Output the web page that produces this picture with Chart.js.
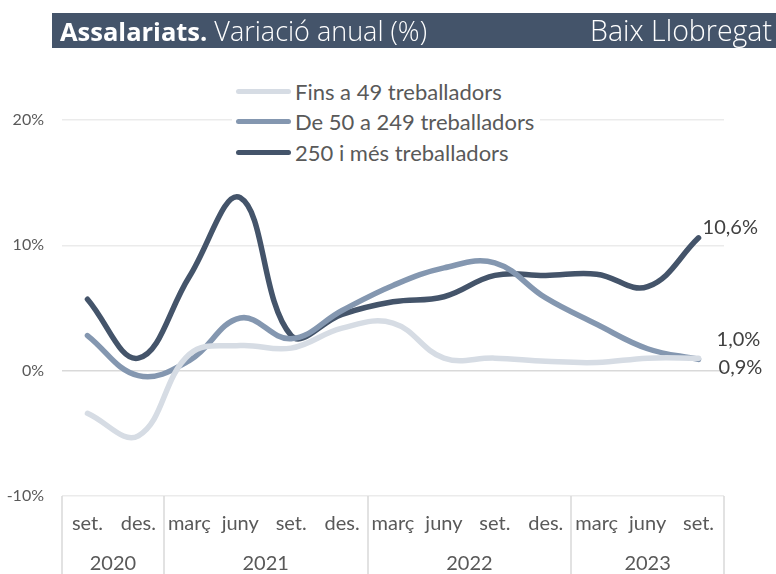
<!DOCTYPE html>
<html>
<head>
<meta charset="utf-8">
<script src="https://cdn.jsdelivr.net/npm/chart.js@4.4.0/dist/chart.umd.min.js"></script>
<style>
  html, body { margin: 0; padding: 0; background: #fff; }
  #wrap { position: relative; width: 776px; height: 574px; overflow: hidden; font-family: Lato, "Open Sans", sans-serif; }
  #c { position: absolute; left: 0; top: 0; }
  #title { position: absolute; left: 52px; top: 13px; width: 724px; height: 35px; background: #44546A; color: #fff;
           font-family: "Open Sans", sans-serif; font-size: 27px; line-height: 35px; box-sizing: border-box;
           padding: 0 4px 0 8px; white-space: nowrap; font-weight: 300; }
  #title b { font-weight: 700; font-size: 25.5px; }
  #title .r { position: absolute; right: 4px; top: 0; font-size: 28.5px; }
  #legend { position: absolute; left: 232px; top: 76px; background: #fff; padding: 0 6px 0 4px; }
  .li { height: 30.5px; display: flex; align-items: center; font-size: 22px; color: #595959; white-space: nowrap; }
  .sw { width: 55px; height: 5px; border-radius: 3px; margin-right: 4px; }
</style>
</head>
<body>
<div id="wrap">
  <canvas id="c" width="776" height="574"></canvas>
  <div id="title"><b>Assalariats.</b> Variació anual (%)<span class="r">Baix Llobregat</span></div>
  <div id="legend"></div>
</div>
<script>
// ---- data ----
const months = ['set.', 'des.', 'març', 'juny', 'set.', 'des.', 'març', 'juny', 'set.', 'des.', 'març', 'juny', 'set.'];
const monthYears = ['2020', '2020', '2021', '2021', '2021', '2021', '2022', '2022', '2022', '2022', '2023', '2023', '2023'];
const seriesNames = ['Fins a 49 treballadors', 'De 50 a 249 treballadors', '250 i més treballadors'];
const small = [-3.4, -5.2, 1.3, 2.0, 1.8, 3.4, 3.8, 1.0, 1.0, 0.75, 0.65, 1.0, 1.0];
const medium = [2.8, -0.4, 0.8, 4.2, 2.55, 4.8, 6.8, 8.2, 8.6, 5.8, 3.7, 1.75, 0.9];
const large = [5.7, 1.0, 7.5, 13.8, 2.8, 4.5, 5.5, 5.9, 7.6, 7.6, 7.7, 6.7, 10.6];
const yTicks = [-10, 0, 10, 20];

// ---- year groups derived from category years ----
const years = [];
const groupStart = [];
const groupEnd = [];
monthYears.forEach((y, i) => {
  if (!years.length || years[years.length - 1] !== y) { years.push(y); groupStart.push(i); groupEnd.push(i); }
  else groupEnd[groupEnd.length - 1] = i;
});
const yearCenters = groupStart.map((s, k) => (s + groupEnd[k]) / 2);
const boundaries = [groupStart[0] - 0.5].concat(groupEnd.map(e => e + 0.5));

const colors = ['#D6DCE4', '#8497B0', '#44546A'];
const values = [small, medium, large];

const fmt = v => v.toFixed(1).replace('.', ',') + '%';

const endLabels = {
  id: 'endLabels',
  afterDatasetsDraw(chart) {
    const ctx = chart.ctx;
    const offs = [[18, -19], [20, 8], [4, -10]];
    ctx.save();
    ctx.font = '20px Lato, sans-serif';
    ctx.fillStyle = '#404040';
    ctx.textAlign = 'left';
    ctx.textBaseline = 'middle';
    chart.data.datasets.forEach((ds, i) => {
      const meta = chart.getDatasetMeta(i);
      const last = meta.data[meta.data.length - 1];
      ctx.fillText(fmt(ds.data[ds.data.length - 1]), last.x + offs[i][0], last.y + offs[i][1]);
    });
    ctx.restore();
  }
};

const separators = {
  id: 'separators',
  afterDraw(chart) {
    const x2 = chart.scales.x2;
    const ctx = chart.ctx;
    ctx.save();
    ctx.strokeStyle = '#D9D9D9';
    ctx.lineWidth = 1.5;
    boundaries.forEach(b => {
      const px = Math.round(x2.getPixelForValue(b));
      ctx.beginPath();
      ctx.moveTo(px, chart.chartArea.bottom);
      ctx.lineTo(px, chart.height);
      ctx.stroke();
    });
    ctx.restore();
  }
};

const chart = new Chart(document.getElementById('c'), {
  type: 'line',
  data: {
    labels: months,
    datasets: seriesNames.map((n, i) => ({
      label: n,
      data: values[i],
      borderColor: colors[i],
      backgroundColor: colors[i],
      borderWidth: 5.5,
      pointRadius: 0,
      tension: 0.4,
      borderCapStyle: 'round',
      fill: false
    }))
  },
  options: {
    responsive: false,
    animation: false,
    devicePixelRatio: 1,
    layout: { padding: { left: 0, right: 52, top: 120, bottom: 0 } },
    plugins: { legend: { display: false }, tooltip: { enabled: false } },
    scales: {
      x: {
        type: 'category',
        offset: true,
        weight: 0,
        grid: { display: false },
        border: { display: false },
        ticks: { color: '#595959', font: { family: 'Lato', size: 20 }, padding: 8, maxRotation: 0, autoSkip: false },
        afterFit: s => { s.height = 42; }
      },
      x2: {
        type: 'linear',
        position: 'bottom',
        weight: 1,
        min: -0.5,
        max: months.length - 0.5,
        grid: { display: false },
        border: { display: false },
        afterBuildTicks: s => { s.ticks = yearCenters.map(v => ({ value: v })); },
        ticks: { color: '#595959', font: { family: 'Lato', size: 20 }, padding: 6, maxRotation: 0, autoSkip: false,
                 callback: (v, i) => years[i] },
        afterFit: s => { s.height = 36; }
      },
      y: {
        min: -10,
        max: 20,
        afterBuildTicks: s => { s.ticks = yTicks.map(v => ({ value: v })); },
        grid: { color: c => (c.tick && c.tick.value === 0 ? '#D9D9D9' : '#EBEBEB'), lineWidth: 1.5, drawTicks: false },
        border: { display: false },
        ticks: { color: '#595959', font: { family: 'Lato', size: 16 }, padding: 18, callback: v => v + '%' },
        afterFit: s => { s.width = 62; }
      }
    }
  },
  plugins: [endLabels, separators]
});

// ---- legend built from datasets ----
const lg = document.getElementById('legend');
chart.data.datasets.forEach(ds => {
  const row = document.createElement('div');
  row.className = 'li';
  const sw = document.createElement('div');
  sw.className = 'sw';
  sw.style.background = ds.borderColor;
  const t = document.createElement('span');
  t.textContent = ds.label;
  row.appendChild(sw);
  row.appendChild(t);
  lg.appendChild(row);
});
</script>
</body>
</html>
